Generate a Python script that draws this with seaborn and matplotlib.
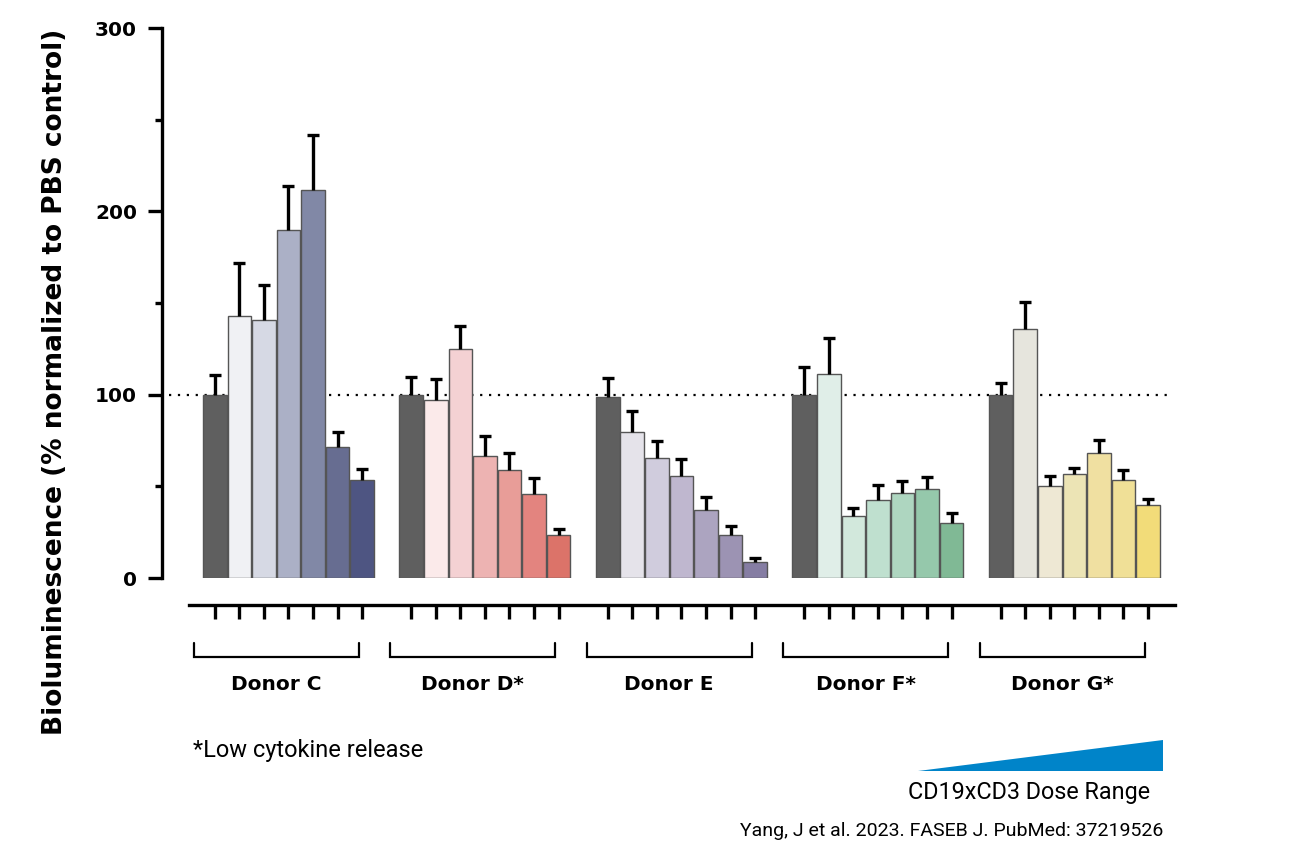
import numpy as np
import pandas as pd
import matplotlib
matplotlib.use("Agg")
import matplotlib.pyplot as plt
from matplotlib.patches import Polygon
import seaborn as sns

# ---------------- data ----------------
donors = ["Donor C", "Donor D*", "Donor E", "Donor F*", "Donor G*"]
n_doses = 7

vals_C = [100, 143.0, 140.6, 189.7, 211.5, 71.3, 53.7]
err_C = [10.7, 29.0, 19.1, 24.2, 30.0, 8.2, 5.6]
vals_D = [100, 96.9, 125.1, 66.5, 58.7, 46.0, 23.5]
err_D = [9.8, 11.8, 12.4, 11.1, 9.3, 8.4, 3.4]
vals_E = [98.7, 79.8, 65.5, 55.5, 36.9, 23.5, 8.5]
err_E = [10.6, 11.3, 9.2, 9.4, 7.5, 5.0, 2.6]
vals_F = [100, 111.1, 33.8, 42.4, 46.2, 48.7, 29.8]
err_F = [15.3, 19.7, 4.2, 8.3, 6.7, 6.6, 5.5]
vals_G = [100, 135.7, 50.4, 56.6, 68.2, 53.3, 39.7]
err_G = [6.4, 15.0, 5.4, 3.6, 6.9, 5.5, 3.6]

colors_C = ["#5f5f5f", "#f0f1f4", "#d6d9e4", "#abb0c6", "#8188a6", "#676d91", "#4e5582"]
colors_D = ["#5f5f5f", "#fbeaea", "#f4d1d3", "#edb3b2", "#e89d98", "#e3847f", "#dc7369"]
colors_E = ["#5f5f5f", "#e5e3ea", "#d0ccdd", "#bfb7cf", "#aca4c0", "#9c93b3", "#857da3"]
colors_F = ["#5f5f5f", "#e0eee8", "#d2e8dc", "#bfe0cf", "#aed6c0", "#95c8ab", "#80b995"]
colors_G = ["#5f5f5f", "#e6e5dd", "#eee8d4", "#ece4b5", "#f0e0a1", "#f0e097", "#f2dc79"]

y_ticks = [0, 100, 200, 300]
y_label = "Bioluminescence (% normalized to PBS control)"
footnote = "*Low cytokine release"
dose_label = "CD19xCD3 Dose Range"
citation = "Yang, J et al. 2023. FASEB J. PubMed: 37219526"

all_vals = [vals_C, vals_D, vals_E, vals_F, vals_G]
all_errs = [err_C, err_D, err_E, err_F, err_G]
all_cols = [colors_C, colors_D, colors_E, colors_F, colors_G]

rows = []
palette = {}
for g, (d, v, e, c) in enumerate(zip(donors, all_vals, all_errs, all_cols)):
    for i in range(n_doses):
        key = f"{d}-{i}"
        rows.append(dict(pos=g * (n_doses + 1) + i, val=v[i], err=e[i], key=key, donor=d))
        palette[key] = c[i]
df = pd.DataFrame(rows)

# ---------------- figure ----------------
sns.set_style("white")
plt.rcParams["font.family"] = ["DejaVu Sans"]
plt.rcParams["text.color"] = "black"
plt.rcParams["axes.labelcolor"] = "black"
plt.rcParams["xtick.color"] = "black"
plt.rcParams["ytick.color"] = "black"

W, H = 1293, 860
fig = plt.figure(figsize=(W / 100, H / 100), dpi=100)
left_px, right_px, y0_px, y300_px = 162, 1175, 578, 28
ax = fig.add_axes([left_px / W, 1 - y0_px / H, (right_px - left_px) / W, (y0_px - y300_px) / H])

sns.barplot(data=df, x="pos", y="val", hue="key", palette=palette, dodge=False,
            native_scale=True, width=0.96, errorbar=None, saturation=1,
            edgecolor="#555555", linewidth=1.0, legend=False, ax=ax, zorder=2)

eb = ax.errorbar(df["pos"], df["val"], yerr=[np.zeros(len(df)), df["err"]],
                 fmt="none", ecolor="black", elinewidth=2.4, capsize=4.5, capthick=2.4, zorder=3)
eb[1][0].set_visible(False)  # hide lower caps

ax.set_xlim(-2.15, 39.1)
ax.set_ylim(0, 300)

# reference line at 100
ax.hlines(100, -1.85, 38.85, colors="black", linestyles=(0, (1, 3)), linewidth=1.6, zorder=1)

# spines
for s in ["top", "right"]:
    ax.spines[s].set_visible(False)
ax.spines["left"].set_linewidth(2.4)
ax.spines["left"].set_color("black")
ax.spines["left"].set_bounds(0, 300)
ax.spines["bottom"].set_linewidth(2.4)
ax.spines["bottom"].set_color("black")
ax.spines["bottom"].set_position(("outward", 19.5))
ax.spines["bottom"].set_bounds(-1.05, 39.1)

ax.set_yticks(y_ticks)
ax.set_yticklabels([str(t) for t in y_ticks], fontweight="bold", fontsize=14.5)
ax.set_yticks([50, 150, 250], minor=True)
ax.tick_params(axis="y", which="major", direction="out", length=10, width=2.4, pad=8, left=True)
ax.tick_params(axis="y", which="minor", direction="out", length=5, width=2.4, left=True)

ax.set_xticks(df["pos"])
ax.set_xticklabels([""] * len(df))
ax.tick_params(axis="x", which="major", direction="out", length=10, width=2.4, bottom=True)
ax.set_xlabel("")
ax.set_ylabel("")

# brackets + donor labels
px_per_unit = (y0_px - y300_px) / 300.0
def ydata(px):
    return (y0_px - px) / px_per_unit

for g, d in enumerate(donors):
    start = g * (n_doses + 1)
    x0, x1 = start - 0.85, start + 5.86
    yb, yt = ydata(657), ydata(643)
    ax.plot([x0, x0, x1, x1], [yt, yb, yb, yt], color="black", lw=1.6,
            clip_on=False, solid_joinstyle="miter")
    ax.text((x0 + x1) / 2, ydata(685), d, ha="center", va="center",
            fontsize=14.5, fontweight="bold", clip_on=False)

# y label
fig.text(55 / W, 1 - 382 / H, y_label, rotation=90, ha="center", va="center",
         fontsize=19, fontweight="bold")

# footnote / dose / citation
fig.text(193 / W, 1 - 750 / H, footnote, ha="left", va="center", fontsize=17,
         family=["Roboto", "DejaVu Sans"])
fig.text(1150 / W, 1 - 793 / H, dose_label, ha="right", va="center", fontsize=16.8,
         family=["Roboto", "DejaVu Sans"])
fig.text(1163 / W, 1 - 831 / H, citation, ha="right", va="center", fontsize=14,
         family=["Roboto", "DejaVu Sans"])

tri = Polygon([(918 / W, 1 - 771 / H), (1163 / W, 1 - 771 / H), (1163 / W, 1 - 740 / H)],
              closed=True, facecolor="#0084c9", edgecolor="none", transform=fig.transFigure)
fig.patches.append(tri)

fig.savefig("out.png", dpi=100)
